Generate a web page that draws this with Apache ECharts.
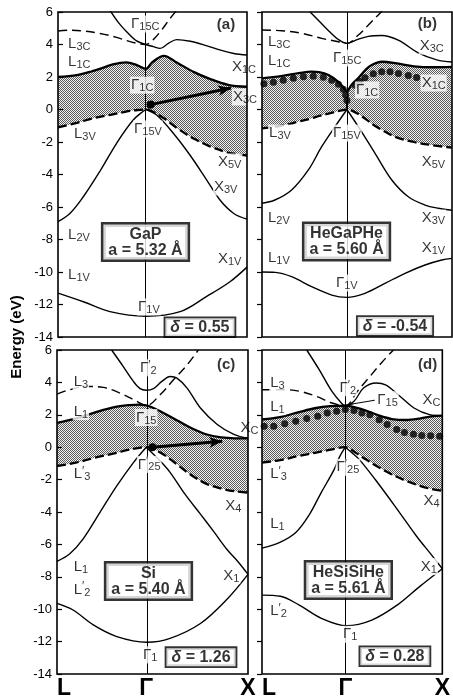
<!DOCTYPE html>
<html>
<head>
<meta charset="utf-8">
<script src="https://cdn.jsdelivr.net/npm/echarts@6/dist/echarts.min.js"></script>
<style>
html, body { margin: 0; padding: 0; background: #fff; }
#main { width: 453px; height: 700px; }
</style>
</head>
<body>
<div id="main"></div>
<script>
// k runs L -> Gamma -> X as a fraction of the panel width (L = 0, X = 1), energy in eV

// (a) GaP
var aGamma = 0.464;
var aShadeK   = [0, 0.1, 0.2, 0.29, 0.36, 0.42, 0.464, 0.5, 0.56, 0.63, 0.72, 0.8, 0.9, 1.0];
var aShadeTop = [2.0, 2.12, 2.42, 2.77, 2.9, 2.72, 2.5, 2.92, 3.3, 2.88, 2.3, 1.9, 1.52, 1.4];
var aShadeBot = [-1.1, -0.82, -0.5, -0.3, -0.13, -0.03, 0, -0.12, -0.54, -1.15, -1.8, -2.25, -2.65, -2.83];
var aCond = [[0.275, 6.1], [0.32, 5.35], [0.363, 4.79], [0.416, 4.22], [0.464, 4.0], [0.504, 3.87], [0.54, 3.76], [0.584, 4.07], [0.628, 4.3], [0.7, 4.2], [0.78, 3.95], [0.86, 3.65], [0.93, 3.45], [1.0, 3.35]];
var aCondDash = [[0, 4.83], [0.063, 4.88], [0.134, 4.83], [0.222, 4.68], [0.31, 4.44], [0.39, 4.15], [0.464, 4.0], [0.504, 4.3], [0.548, 4.89], [0.593, 5.6], [0.628, 6.1]];
var aValL = [[0, -6.9], [0.063, -6.4], [0.134, -5.37], [0.222, -3.8], [0.31, -2.08], [0.398, -0.65], [0.464, 0]];
var aValX = [[0.464, 0], [0.522, -0.34], [0.61, -1.46], [0.698, -2.8], [0.787, -4.34], [0.857, -5.57], [0.93, -6.4], [1.0, -6.75]];
var aBottom = [[0, -11.3], [0.134, -11.83], [0.275, -12.44], [0.464, -12.72], [0.646, -12.44], [0.787, -11.5], [0.91, -10.6], [1.0, -9.7]];
var aArrow = [[0.49, 0.3], [0.915, 1.32]];
var aLabels = [
  [0.381, 5.26, 'Γ{s|15C}'], [0.048, 4.03, 'L{s|3C}'], [0.048, 2.92, 'L{s|1C}'], [0.381, 1.5, 'Γ{s|1C}'],
  [0.915, 2.6, 'X{s|1C}'], [0.92, 0.77, 'X{s|3C}'], [0.397, -1.2, 'Γ{s|15V}'], [0.079, -1.5, 'L{s|3V}'],
  [0.841, -3.23, 'X{s|5V}'], [0.82, -4.77, 'X{s|3V}'], [0.048, -7.72, 'L{s|2V}'], [0.841, -9.2, 'X{s|1V}'],
  [0.048, -10.18, 'L{s|1V}'], [0.418, -12.15, 'Γ{s|1V}'], [0.835, 5.2, '{b|(a)}']
];

// (b) HeGaPHe
var bGamma = 0.447;
var bShadeK   = [0, 0.1, 0.2, 0.26, 0.3, 0.35, 0.4, 0.43, 0.447, 0.47, 0.507, 0.55, 0.58, 0.63, 0.7, 0.8, 0.9, 1.0];
var bShadeTop = [1.92, 2.05, 2.25, 2.33, 2.3, 2.12, 1.72, 1.35, 1.1, 1.5, 1.94, 2.5, 2.75, 2.94, 2.86, 2.66, 2.6, 2.62];
var bShadeBot = [-1.16, -1.0, -0.72, -0.55, -0.4, -0.25, -0.1, -0.03, 0, -0.05, -0.28, -0.62, -0.9, -1.25, -1.68, -2.0, -2.2, -2.35];
var bCond = [[0.253, 6.0], [0.3, 5.45], [0.35, 4.85], [0.405, 4.28], [0.447, 4.07], [0.5, 4.3], [0.56, 4.5], [0.63, 4.55], [0.72, 4.25], [0.82, 3.5], [0.92, 3.05], [1.0, 2.92]];
var bCondDash = [[0, 4.89], [0.104, 4.85], [0.209, 4.69], [0.314, 4.38], [0.402, 4.17], [0.447, 4.07], [0.507, 4.58], [0.56, 5.2], [0.612, 5.82], [0.635, 6.1]];
var bValL = [[0, -5.77], [0.068, -5.57], [0.156, -4.95], [0.244, -3.72], [0.314, -2.29], [0.384, -1.06], [0.447, 0]];
var bValX = [[0.447, 0], [0.507, -1.06], [0.595, -2.7], [0.683, -4.34], [0.77, -5.37], [0.858, -5.88], [0.928, -6.08], [1.0, -6.2]];
var bBottom = [[0, -10.0], [0.07, -10.02], [0.156, -10.29], [0.261, -10.9], [0.367, -11.42], [0.447, -11.56], [0.542, -11.31], [0.647, -10.7], [0.753, -10.08], [0.858, -9.57], [0.946, -9.26], [1.0, -9.16]];
var bDots = [[0.01, 1.58], [0.06, 1.68], [0.112, 1.8], [0.165, 1.93], [0.218, 2.02], [0.27, 2.05], [0.323, 1.98], [0.367, 1.8], [0.402, 1.55], [0.428, 1.25], [0.44, 0.9], [0.447, 0.55],
  [0.49, 1.5], [0.515, 1.72], [0.542, 1.95], [0.586, 2.2], [0.63, 2.33], [0.674, 2.32], [0.718, 2.22], [0.77, 2.1], [0.814, 1.97]];
var bArrow = [[0.447, 0.5], [0.447, 0.06]];
var bLabels = [
  [0.026, 4.15, 'L{s|3C}'], [0.026, 2.98, 'L{s|1C}'], [0.368, 3.17, 'Γ{s|15C}'], [0.825, 3.9, 'X{s|3C}'],
  [0.835, 1.63, 'X{s|1C}'], [0.489, 1.2, 'Γ{s|1C}'], [0.032, -1.45, 'L{s|3V}'], [0.368, -1.45, 'Γ{s|15V}'],
  [0.835, -3.23, 'X{s|5V}'], [0.026, -6.68, 'L{s|2V}'], [0.835, -6.68, 'X{s|3V}'], [0.835, -8.52, 'X{s|1V}'],
  [0.026, -9.14, 'L{s|1V}'], [0.384, -10.68, 'Γ{s|1V}'], [0.815, 5.26, '{b|(b)}']
];

// (c) Si
var cGamma = 0.467;
var cShadeK   = [0, 0.1, 0.2, 0.3, 0.38, 0.43, 0.467, 0.5, 0.56, 0.63, 0.7, 0.78, 0.86, 0.93, 1.0];
var cShadeTop = [1.5, 1.78, 2.15, 2.47, 2.6, 2.63, 2.58, 2.45, 2.1, 1.65, 1.2, 0.8, 0.6, 0.55, 0.55];
var cShadeBot = [-1.16, -0.95, -0.65, -0.38, -0.15, -0.04, 0, -0.1, -0.47, -1.08, -1.7, -2.25, -2.55, -2.72, -2.8];
var cCond = [[0.286, 6.0], [0.347, 4.98], [0.4, 4.06], [0.435, 3.62], [0.467, 3.52], [0.505, 3.62], [0.549, 4.06], [0.593, 4.36], [0.628, 4.26], [0.681, 3.65], [0.751, 2.42], [0.839, 1.4], [0.926, 0.79], [1.0, 0.55]];
var cCondDash = [[0, 3.28], [0.067, 3.55], [0.154, 3.75], [0.242, 3.69], [0.33, 3.34], [0.418, 2.83], [0.467, 2.56], [0.54, 3.24], [0.61, 4.16], [0.681, 5.08], [0.74, 6.0]];
var cValL = [[0, -7.05], [0.067, -6.58], [0.137, -5.66], [0.225, -4.02], [0.313, -2.39], [0.4, -0.95], [0.467, 0]];
var cValX = [[0.467, 0], [0.54, -0.85], [0.592, -1.55], [0.67, -2.9], [0.749, -4.1], [0.82, -5.2], [0.889, -6.3], [0.95, -7.1], [1.0, -7.85]];
var cBottom = [[0, -9.64], [0.084, -10.05], [0.19, -10.97], [0.313, -11.69], [0.47, -12.04], [0.592, -11.8], [0.749, -10.9], [0.889, -9.4], [1.0, -7.85]];
var cArrow = [[0.5, 0.0], [0.865, 0.37]];
var cLabels = [
  [0.429, 4.9, 'Γ{p|′}{s|2}'], [0.082, 4.04, 'L{s|3}'], [0.082, 2.2, 'L{s|1}'], [0.408, 1.83, 'Γ{s|15}'],
  [0.955, 1.21, 'X{s|C}'], [0.418, -1.06, 'Γ{p|′}{s|25}'], [0.082, -1.67, 'L{p|′}{s|3}'], [0.875, -3.63, 'X{s|4}'],
  [0.082, -7.37, 'L{s|1}'], [0.865, -7.93, 'X{s|1}'], [0.082, -8.79, 'L{p|′}{s|2}'], [0.445, -12.82, 'Γ{s|1}'],
  [0.832, 5.08, '{b|(c)}']
];

// (d) HeSiSiHe
var dGamma = 0.462;
var dShadeK   = [0, 0.1, 0.2, 0.3, 0.38, 0.462, 0.52, 0.58, 0.65, 0.72, 0.8, 0.88, 0.94, 1.0];
var dShadeTop = [1.71, 1.86, 2.15, 2.42, 2.53, 2.56, 2.45, 2.25, 1.95, 1.74, 1.68, 1.78, 1.9, 1.95];
var dShadeBot = [-0.95, -0.8, -0.55, -0.33, -0.15, 0, -0.35, -0.78, -1.26, -1.68, -2.08, -2.4, -2.58, -2.69];
var dCond = [[0.248, 6.0], [0.318, 4.77], [0.388, 3.44], [0.44, 2.73], [0.462, 2.56], [0.51, 2.83], [0.563, 3.65], [0.633, 3.96], [0.685, 3.85], [0.755, 3.24], [0.843, 2.42], [0.93, 2.01], [1.0, 1.95]];
var dCondDash = [[0, 3.55], [0.126, 3.55], [0.213, 3.44], [0.3, 3.14], [0.388, 2.73], [0.462, 2.56], [0.528, 3.44], [0.598, 4.36], [0.668, 5.28], [0.729, 6.0]];
var dValL = [[0, -6.23], [0.102, -5.86], [0.189, -5.25], [0.259, -4.23], [0.329, -2.79], [0.399, -1.4], [0.43, -0.6], [0.462, 0]];
var dValX = [[0.462, 0], [0.5, -0.35], [0.539, -0.75], [0.627, -1.98], [0.749, -3.82], [0.854, -5.45], [0.942, -6.68], [1.0, -7.5]];
var dBottom = [[0, -9.13], [0.102, -9.2], [0.207, -9.75], [0.329, -10.56], [0.469, -11.02], [0.609, -10.67], [0.749, -9.75], [0.872, -8.62], [1.0, -7.5]];
var dDots = [[0.012, 1.3], [0.065, 1.3], [0.126, 1.44], [0.187, 1.6], [0.248, 1.77], [0.309, 1.91], [0.362, 2.11], [0.414, 2.22], [0.462, 2.32], [0.51, 2.26], [0.554, 2.11], [0.598, 2.0],
  [0.65, 1.7], [0.694, 1.4], [0.747, 1.09], [0.79, 0.9], [0.84, 0.8], [0.886, 0.72], [0.935, 0.7], [0.985, 0.68]];
var dPointer = [[0.625, 2.9], [0.475, 2.62]];
var dLabels = [
  [0.04, 3.98, 'L{s|3}'], [0.04, 2.5, 'L{s|1}'], [0.424, 3.67, 'Γ{p|′}{s|2}'], [0.634, 2.93, 'Γ{s|15}'],
  [0.885, 2.93, 'X{s|C}'], [0.04, -1.67, 'L{p|′}{s|3}'], [0.408, -1.24, 'Γ{p|′}{s|25}'], [0.89, -3.33, 'X{s|4}'],
  [0.04, -4.74, 'L{s|1}'], [0.875, -7.37, 'X{s|1}'], [0.04, -10.13, 'L{p|′}{s|2}'], [0.444, -11.55, 'Γ{s|1}'],
  [0.86, 5.1, '{b|(d)}']
];

// boxes
var materials = ['GaP', 'HeGaPHe', 'Si', 'HeSiSiHe'];
var lattice = ['5.32', '5.60', '5.40', '5.61'];
var deltas = ['0.55', '-0.54', '1.26', '0.28'];
var matBoxAt = [[0.463, -8.15], [0.445, -8.12], [0.479, -8.26], [0.479, -8.2]];
var deltaBoxAt = [[0.751, -13.4], [0.7, -13.32], [0.754, -12.96], [0.737, -12.9]];
var kNames = ['L', 'Γ', 'X'];

var chart = echarts.init(document.getElementById('main'));
var FONT = 'Liberation Sans, Arial, Helvetica, sans-serif';

// stipple fill
var pat = document.createElement('canvas');
pat.width = 2; pat.height = 2;
var pc = pat.getContext('2d');
pc.fillStyle = '#f2f2f2'; pc.fillRect(0, 0, 2, 2);
pc.fillStyle = '#5a5a5a'; pc.fillRect(0, 0, 1, 1); pc.fillRect(1, 1, 1, 1);

var RICH = {
  s: { fontSize: 11, fontFamily: FONT, color: '#000', verticalAlign: 'bottom', lineHeight: 10 },
  p: { fontSize: 12, fontFamily: FONT, color: '#000', verticalAlign: 'top', lineHeight: 11 },
  b: { fontSize: 15, fontFamily: FONT, fontWeight: 'bold', color: '#000' },
  d: { fontSize: 16, fontFamily: FONT, fontWeight: 'bold', fontStyle: 'italic', color: '#000' }
};

var grids = [
  { left: 58, top: 12, width: 189, height: 325 },
  { left: 262, top: 12, width: 190, height: 325 },
  { left: 57, top: 350, width: 191, height: 326 },
  { left: 262, top: 350, width: 190, height: 326 }
];
var gammas = [aGamma, bGamma, cGamma, dGamma];

var series = [];

function line(i, data, dashed) {
  series.push({
    type: 'line', xAxisIndex: i, yAxisIndex: i, data: data, smooth: 0.35, symbol: 'none', silent: true, z: 3,
    lineStyle: { color: '#000', width: 1.4, type: dashed ? [9, 5] : 'solid' }
  });
}

// gap region: stipple under the conduction edge, then white under the valence edge
function shade(i, k, top, bot) {
  series.push({
    type: 'line', xAxisIndex: i, yAxisIndex: i, smooth: 0.35, symbol: 'none', silent: true, z: 1,
    data: k.map(function (x, j) { return [x, top[j]]; }),
    lineStyle: { color: '#000', width: 2.3 },
    areaStyle: { color: { image: pat, repeat: 'repeat' }, opacity: 1, origin: 'start' }
  });
  series.push({
    type: 'line', xAxisIndex: i, yAxisIndex: i, smooth: 0.35, symbol: 'none', silent: true, z: 1,
    data: k.map(function (x, j) { return [x, bot[j]]; }),
    lineStyle: { color: '#000', width: 2.3, type: [9, 4] },
    areaStyle: { color: '#fff', opacity: 1, origin: 'start' },
    markLine: {
      silent: true, symbol: 'none', label: { show: false }, z: 4,
      lineStyle: { color: '#000', width: 1, type: 'solid' },
      data: [{ xAxis: gammas[i] }]
    }
  });
}

function labels(i, items) {
  series.push({
    type: 'scatter', xAxisIndex: i, yAxisIndex: i, symbolSize: 0, silent: true, z: 8,
    data: items.map(function (d) { return { value: [d[0], d[1]], name: d[2] }; }),
    label: {
      show: true, position: 'inside', align: 'left', verticalAlign: 'middle',
      formatter: function (p) { return p.name; },
      color: '#000', fontFamily: FONT, fontSize: 15, lineHeight: 17,
      backgroundColor: '#fff', padding: [0, 1], rich: RICH
    }
  });
}

function boxes(i) {
  series.push({
    type: 'scatter', xAxisIndex: i, yAxisIndex: i, symbolSize: 0, silent: true, z: 9,
    data: [
      { value: matBoxAt[i], name: materials[i] + '\na = ' + lattice[i] + ' Å',
        label: { borderWidth: 2.5, padding: [2, 5, 1, 5], lineHeight: 16 } },
      { value: deltaBoxAt[i], name: '{d|δ} = ' + deltas[i],
        label: { borderWidth: 1.8, padding: [1, 5, 0, 5] } }
    ],
    label: {
      show: true, position: 'inside', align: 'center', verticalAlign: 'middle',
      formatter: function (p) { return p.name; },
      color: '#000', fontFamily: FONT, fontSize: 16, fontWeight: 'bold', lineHeight: 17,
      backgroundColor: '#fff', borderColor: '#000', rich: RICH
    }
  });
}

function dots(i, data) {
  series.push({
    type: 'scatter', xAxisIndex: i, yAxisIndex: i, data: data, symbol: 'circle', symbolSize: 7,
    itemStyle: { color: '#000' }, silent: true, z: 7
  });
}

function arrow(i, pts, startSymbol, width, size) {
  series.push({
    type: 'line', xAxisIndex: i, yAxisIndex: i, data: [], silent: true, z: 7,
    markLine: {
      silent: true, z: 7, symbol: [startSymbol, 'arrow'], symbolSize: size, label: { show: false },
      lineStyle: { color: '#000', width: width, type: 'solid' },
      data: [[{ coord: pts[0] }, { coord: pts[1] }]]
    }
  });
}

var panels = [
  [aShadeK, aShadeTop, aShadeBot, aCond, aCondDash, aValL, aValX, aBottom, aLabels],
  [bShadeK, bShadeTop, bShadeBot, bCond, bCondDash, bValL, bValX, bBottom, bLabels],
  [cShadeK, cShadeTop, cShadeBot, cCond, cCondDash, cValL, cValX, cBottom, cLabels],
  [dShadeK, dShadeTop, dShadeBot, dCond, dCondDash, dValL, dValX, dBottom, dLabels]
];
panels.forEach(function (p, i) {
  shade(i, p[0], p[1], p[2]);
  line(i, p[3], false);
  line(i, p[4], true);
  line(i, p[5], false);
  line(i, p[6], false);
  line(i, p[7], false);
  labels(i, p[8]);
  boxes(i);
});
dots(1, bDots);
dots(3, dDots);
arrow(0, aArrow, 'circle', 3, [8, 13]);
arrow(1, bArrow, 'none', 2, [1, 9]);
arrow(2, cArrow, 'circle', 3, [8, 13]);
arrow(3, dPointer, 'none', 1, [1, 6]);

chart.setOption({
  animation: false,
  backgroundColor: '#fff',
  grid: grids.map(function (g) {
    return Object.assign({ show: true, z: 12, borderColor: '#000', borderWidth: 1.6, backgroundColor: 'transparent' }, g);
  }),
  xAxis: grids.map(function (g, i) {
    return {
      type: 'value', gridIndex: i, min: 0, max: 1, z: 12,
      axisLine: { show: false }, axisTick: { show: false }, splitLine: { show: false },
      axisLabel: i < 2 ? { show: false } : {
        show: true, customValues: [0, gammas[i], 1], alignMinLabel: 'left',
        formatter: function (v) { return v === 0 ? kNames[0] : (v === 1 ? kNames[2] : kNames[1]); },
        color: '#000', fontFamily: FONT, fontSize: 23, fontWeight: 'bold', margin: 3
      }
    };
  }),
  yAxis: grids.map(function (g, i) {
    return {
      type: 'value', gridIndex: i, min: -14, max: 6, interval: 2, z: 12,
      position: i % 2 === 0 ? 'left' : 'right',
      axisLine: { show: false }, splitLine: { show: false },
      axisTick: { show: true, inside: true, length: 5, lineStyle: { color: '#000', width: 1.2 } },
      axisLabel: i % 2 === 0 ? { show: true, color: '#000', fontFamily: FONT, fontSize: 13, margin: 5 } : { show: false }
    };
  }),
  graphic: [{
    type: 'text', x: 17, y: 337, rotation: Math.PI / 2, silent: true,
    style: { text: 'Energy (eV)', fill: '#000', font: 'bold 15px ' + FONT, align: 'center', verticalAlign: 'middle' }
  }],
  series: series
});
</script>
</body>
</html>
